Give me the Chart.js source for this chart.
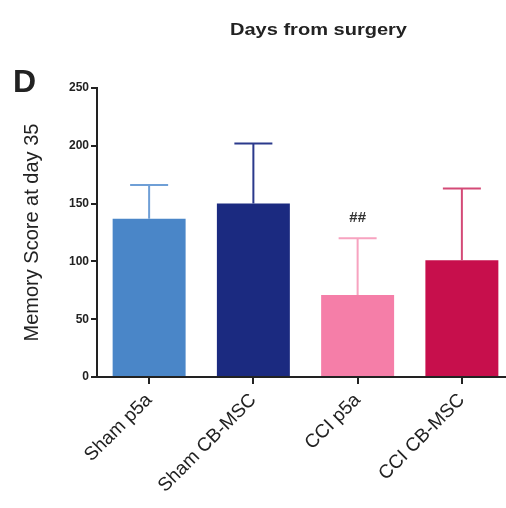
<!DOCTYPE html>
<html>
<head>
<meta charset="utf-8">
<script src="https://cdn.jsdelivr.net/npm/chart.js@4"></script>
<style>
  html,body{margin:0;padding:0;background:#fff;overflow:hidden;}
  #wrap{width:514px;height:508px;}
</style>
</head>
<body>
<div id="wrap"><canvas id="chart" width="514" height="508"></canvas></div>
<script>
const groups = ["Sham p5a", "Sham CB-MSC", "CCI p5a", "CCI CB-MSC"];
const means = [137, 150, 71, 101];
const errors = [29, 52, 49, 62];
const colors = ["#4a86c8", "#1b2a80", "#f57ea8", "#c70f4c"];
const errColors = ["#6f9fd6", "#2b3a8c", "#f7a3c0", "#d44a77"];
const marks = ["", "", "##", ""];
const yTicks = [0, 50, 100, 150, 200, 250];

const errorBars = {
    id: "errorBars",
    afterDatasetsDraw(chart){
        const ctx = chart.ctx;
        const meta = chart.getDatasetMeta(0);
        const y = chart.scales.y;
        meta.data.forEach((bar, i) => {
            const top = y.getPixelForValue(means[i] + errors[i]);
            const base = y.getPixelForValue(means[i]);
            ctx.save();
            ctx.strokeStyle = errColors[i];
            ctx.lineWidth = 2;
            ctx.beginPath();
            ctx.moveTo(bar.x, base);
            ctx.lineTo(bar.x, top);
            ctx.moveTo(bar.x - 19, top);
            ctx.lineTo(bar.x + 19, top);
            ctx.stroke();
            if(marks[i]){
                ctx.fillStyle = "#333";
                ctx.font = "bold 15px Arial, 'Liberation Sans'";
                ctx.textAlign = "center";
                ctx.textBaseline = "middle";
                ctx.fillText(marks[i], bar.x, top - 20);
            }
            ctx.restore();
        });
    }
};

// title squashed a bit, like the scanned figure
const extraText = {
    id: "extraText",
    afterDraw(chart){
        const ctx = chart.ctx;
        ctx.save();
        ctx.fillStyle = "#222";
        ctx.font = "bold 16px Arial, 'Liberation Sans'";
        ctx.textBaseline = "middle";
        const txt = "Days from surgery";
        const w = ctx.measureText(txt).width;
        ctx.translate(230, 31);
        ctx.scale(177 / w, 1);
        ctx.fillText(txt, 0, 0);
        ctx.restore();
        ctx.save();
        ctx.fillStyle = "#222";
        ctx.font = "bold 32px Arial, 'Liberation Sans'";
        ctx.textBaseline = "middle";
        ctx.fillText("D", 13, 83);
        ctx.restore();
    }
};

new Chart(document.getElementById("chart"), {
    type: "bar",
    data: {
        labels: groups,
        datasets: [{
            data: means,
            backgroundColor: colors,
            borderWidth: 0,
            barPercentage: 0.7,
            categoryPercentage: 1.0
        }]
    },
    options: {
        responsive: false,
        animation: false,
        layout: {padding: {top: 88, left: 20, right: 0, bottom: 6}},
        plugins: {legend: {display: false}, tooltip: {enabled: false}},
        scales: {
            x: {
                grid: {offset: false, drawOnChartArea: false, drawTicks: true, tickLength: 7, color: "#222", lineWidth: 2},
                border: {color: "#222", width: 2},
                ticks: {
                    color: "#222",
                    font: {size: 19, family: "Arial, 'Liberation Sans'"},
                    maxRotation: 45, minRotation: 45, padding: 5
                }
            },
            y: {
                min: 0, max: 250,
                afterBuildTicks(axis){ axis.ticks = yTicks.map(v => ({value: v})); },
                afterFit(axis){ axis.width = 77; },
                grid: {drawOnChartArea: false, drawTicks: true, tickLength: 6, color: "#222", lineWidth: 2},
                border: {color: "#222", width: 2},
                ticks: {
                    color: "#222",
                    font: {size: 12, weight: "bold", family: "Arial, 'Liberation Sans'"},
                    padding: 2
                },
                title: {
                    display: true,
                    text: "Memory Score at day 35",
                    color: "#222",
                    font: {size: 20, family: "Arial, 'Liberation Sans'"},
                    padding: {top: 0, bottom: 9}
                }
            }
        }
    },
    plugins: [errorBars, extraText]
});
</script>
</body>
</html>
